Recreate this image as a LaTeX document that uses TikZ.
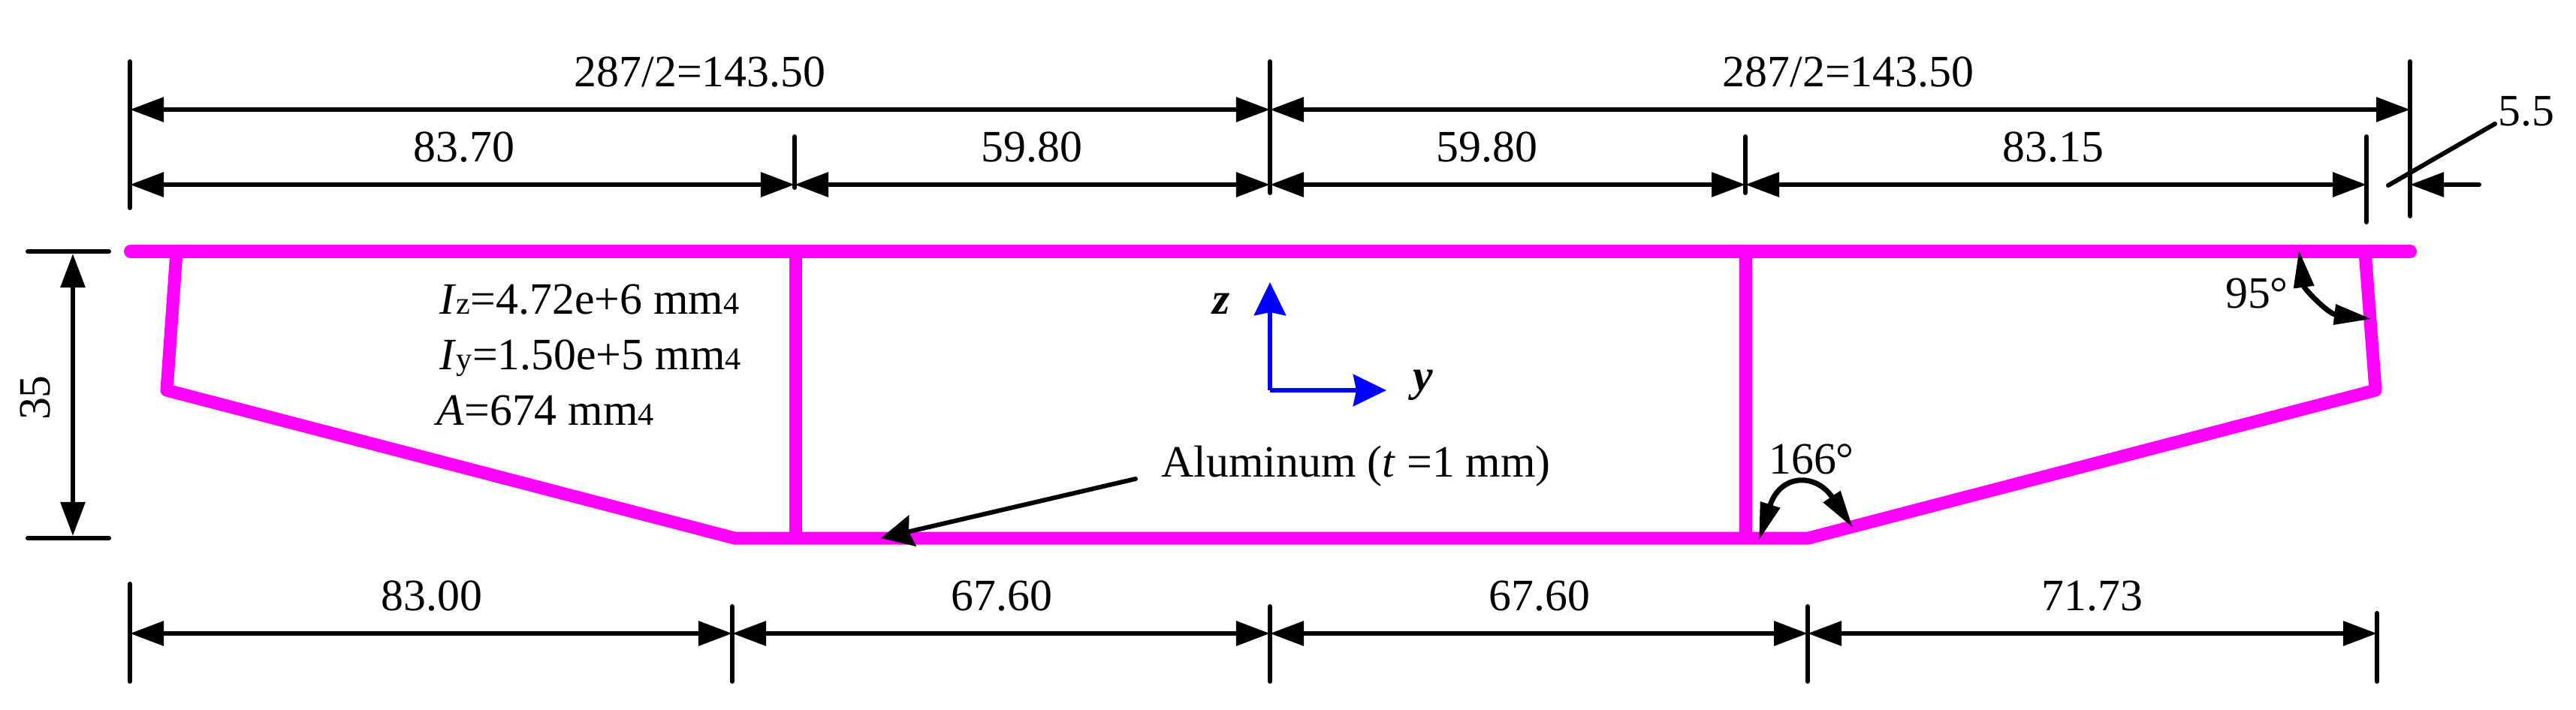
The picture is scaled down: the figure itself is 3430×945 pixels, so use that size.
\documentclass[tikz,border=0pt]{standalone}
\usepackage{fontspec}
\setmainfont{Liberation Serif}
\usetikzlibrary{arrows.meta}
\definecolor{section}{RGB}{255,0,255}
\newcommand{\smallnum}[1]{{\fontsize{12}{12}\selectfont #1}}

\begin{document}
\begin{tikzpicture}[x=0.01cm,y=-0.01cm,
    wall/.style={draw=section,line width=0.17cm,line join=round},
    tick/.style={line width=0.06cm,line cap=round},
    dimline/.style={line width=0.06cm,{Triangle[length=0.45cm,width=0.32cm]}-{Triangle[length=0.45cm,width=0.32cm]}},
    anglearc/.style={line width=0.07cm,{Triangle[length=0.5cm,width=0.26cm]}-{Triangle[length=0.5cm,width=0.26cm]}},
    axisline/.style={draw=blue,line width=0.065cm,-{Stealth[length=0.44cm,width=0.42cm,inset=0.04cm]}},
    lbl/.style={anchor=base,inner sep=0pt,font=\fontsize{17}{20}\selectfont}]
    \useasboundingbox (0,0) rectangle (3430,945);

    % Section
    \coordinate (flangeL) at (174,335);
    \coordinate (flangeR) at (3209,335);
    \coordinate (webLtop) at (235,335);
    \coordinate (webLbot) at (222,520);
    \coordinate (botL) at (978,717);
    \coordinate (botR) at (2408,717);
    \coordinate (webRbot) at (3163,520);
    \coordinate (webRtop) at (3149,335);
    \coordinate (ribLtop) at (1059,335);
    \coordinate (ribLbot) at (1059,717);
    \coordinate (ribRtop) at (2324,335);
    \coordinate (ribRbot) at (2324,717);
    \draw[wall] (webLtop) -- (webLbot) -- (botL) -- (botR) -- (webRbot) -- (webRtop);
    \draw[wall] (ribLtop) -- (ribLbot);
    \draw[wall] (ribRtop) -- (ribRbot);
    \draw[wall,line width=0.18cm,line cap=round] (flangeL) -- (flangeR);

    % Top dimensions
    \coordinate (a1) at (173,82);   \coordinate (a2) at (173,277);
    \coordinate (b1) at (1058,182); \coordinate (b2) at (1058,250);
    \coordinate (c1) at (1691,82);  \coordinate (c2) at (1691,257);
    \coordinate (d1) at (2324,182); \coordinate (d2) at (2324,257);
    \coordinate (e1) at (3151,182); \coordinate (e2) at (3151,296);
    \coordinate (f1) at (3209,82);  \coordinate (f2) at (3209,288);
    \draw[tick] (a1) -- (a2);
    \draw[tick] (b1) -- (b2);
    \draw[tick] (c1) -- (c2);
    \draw[tick] (d1) -- (d2);
    \draw[tick] (e1) -- (e2);
    \draw[tick] (f1) -- (f2);
    \coordinate (r1a) at (173,146);  \coordinate (r1c) at (1691,146); \coordinate (r1f) at (3209,146);
    \coordinate (r2a) at (173,246);  \coordinate (r2b) at (1058,246); \coordinate (r2c) at (1691,246);
    \coordinate (r2d) at (2324,246); \coordinate (r2e) at (3151,246); \coordinate (r2f) at (3209,246);
    \coordinate (r2g) at (3301,246);
    \draw[dimline] (r1a) -- (r1c);
    \draw[dimline] (r1c) -- (r1f);
    \draw[dimline] (r2a) -- (r2b);
    \draw[dimline] (r2b) -- (r2c);
    \draw[dimline] (r2c) -- (r2d);
    \draw[dimline] (r2d) -- (r2e);
    \draw[dimline,{Triangle[length=0.45cm,width=0.32cm]}-,line cap=round] (r2f) -- (r2g);
    \node[lbl] (halfL) at (932,115) {287/2=143.50};
    \node[lbl] (halfR) at (2461,115) {287/2=143.50};
    \node[lbl] (topA) at (618,215) {83.70};
    \node[lbl] (topB) at (1374,215) {59.80};
    \node[lbl] (topC) at (1980,215) {59.80};
    \node[lbl] (topD) at (2734,215) {83.15};
    \node[lbl] (lip) at (3364,167) {5.5};
    \coordinate (lipEnd) at (3180,247);
    \coordinate (lipStart) at (3322,165);
    \draw[tick] (lipEnd) -- (lipStart);

    % Bottom dimensions
    \coordinate (g1) at (173,778);  \coordinate (g2) at (173,908);
    \coordinate (h1) at (975,808);  \coordinate (h2) at (975,908);
    \coordinate (i1) at (1691,808); \coordinate (i2) at (1691,908);
    \coordinate (j1) at (2407,808); \coordinate (j2) at (2407,908);
    \coordinate (k1) at (3165,817); \coordinate (k2) at (3165,908);
    \draw[tick] (g1) -- (g2);
    \draw[tick] (h1) -- (h2);
    \draw[tick] (i1) -- (i2);
    \draw[tick] (j1) -- (j2);
    \draw[tick] (k1) -- (k2);
    \coordinate (r3g) at (173,844);  \coordinate (r3h) at (975,844);  \coordinate (r3i) at (1691,844);
    \coordinate (r3j) at (2407,844); \coordinate (r3k) at (3165,844);
    \draw[dimline] (r3g) -- (r3h);
    \draw[dimline] (r3h) -- (r3i);
    \draw[dimline] (r3i) -- (r3j);
    \draw[dimline] (r3j) -- (r3k);
    \node[lbl] (botA) at (575,813) {83.00};
    \node[lbl] (botB) at (1334,813) {67.60};
    \node[lbl] (botC) at (2050,813) {67.60};
    \node[lbl] (botD) at (2786,813) {71.73};

    % Height
    \coordinate (topH1) at (37,335); \coordinate (topH2) at (145,335);
    \coordinate (botH1) at (37,717); \coordinate (botH2) at (145,717);
    \coordinate (topH) at (97,338);  \coordinate (botH) at (97,714);
    \draw[tick] (topH1) -- (topH2);
    \draw[tick] (botH1) -- (botH2);
    \draw[dimline] (topH) -- (botH);
    \node[lbl,rotate=90] (height) at (67,530) {35};

    % Section properties
    \node[lbl,anchor=base west] (propIz) at (585,418) {\textit{I}\smallnum{z}=4.72e+6 mm\smallnum{4}};
    \node[lbl,anchor=base west] (propIy) at (585,492) {\textit{I}\smallnum{y}=1.50e+5 mm\smallnum{4}};
    \node[lbl,anchor=base west] (propA) at (581,566) {\textit{A}=674 mm\smallnum{4}};

    % Axes
    \coordinate (origin) at (1691,520);
    \coordinate (axisZ) at (1691,376);
    \coordinate (axisY) at (1846,520);
    \draw[axisline] (origin) -- (axisZ);
    \draw[axisline] (origin) -- (axisY);
    \node[lbl] (labelZ) at (1626,418) {\textbf{\textit{z}}};
    \node[lbl] (labelY) at (1895,520) {\textbf{\textit{y}}};

    % Material
    \node[lbl,anchor=base west] (material) at (1546,635) {Aluminum (\textit{t} =1 mm)};
    \coordinate (materialTip) at (1173,717);
    \coordinate (materialEnd) at (1512,638);
    \draw[tick,{Stealth[length=0.43cm,width=0.42cm,inset=0.05cm]}-] (materialTip) -- (materialEnd);

    % Angles
    \coordinate (arcA1) at (3061,333);
    \coordinate (arcA2) at (3158,425);
    \draw[anglearc] (arcA1) .. controls (3068,385) and (3100,418) .. (arcA2);
    \node[lbl] (angleA) at (3005,410) {95°};
    \coordinate (arcB1) at (2342,720);
    \coordinate (arcB2) at (2467,703);
    \draw[anglearc] (arcB1) .. controls (2370,632) and (2417,629) .. (arcB2);
    \node[lbl] (angleB) at (2412,631) {166°};
\end{tikzpicture}
\end{document}
